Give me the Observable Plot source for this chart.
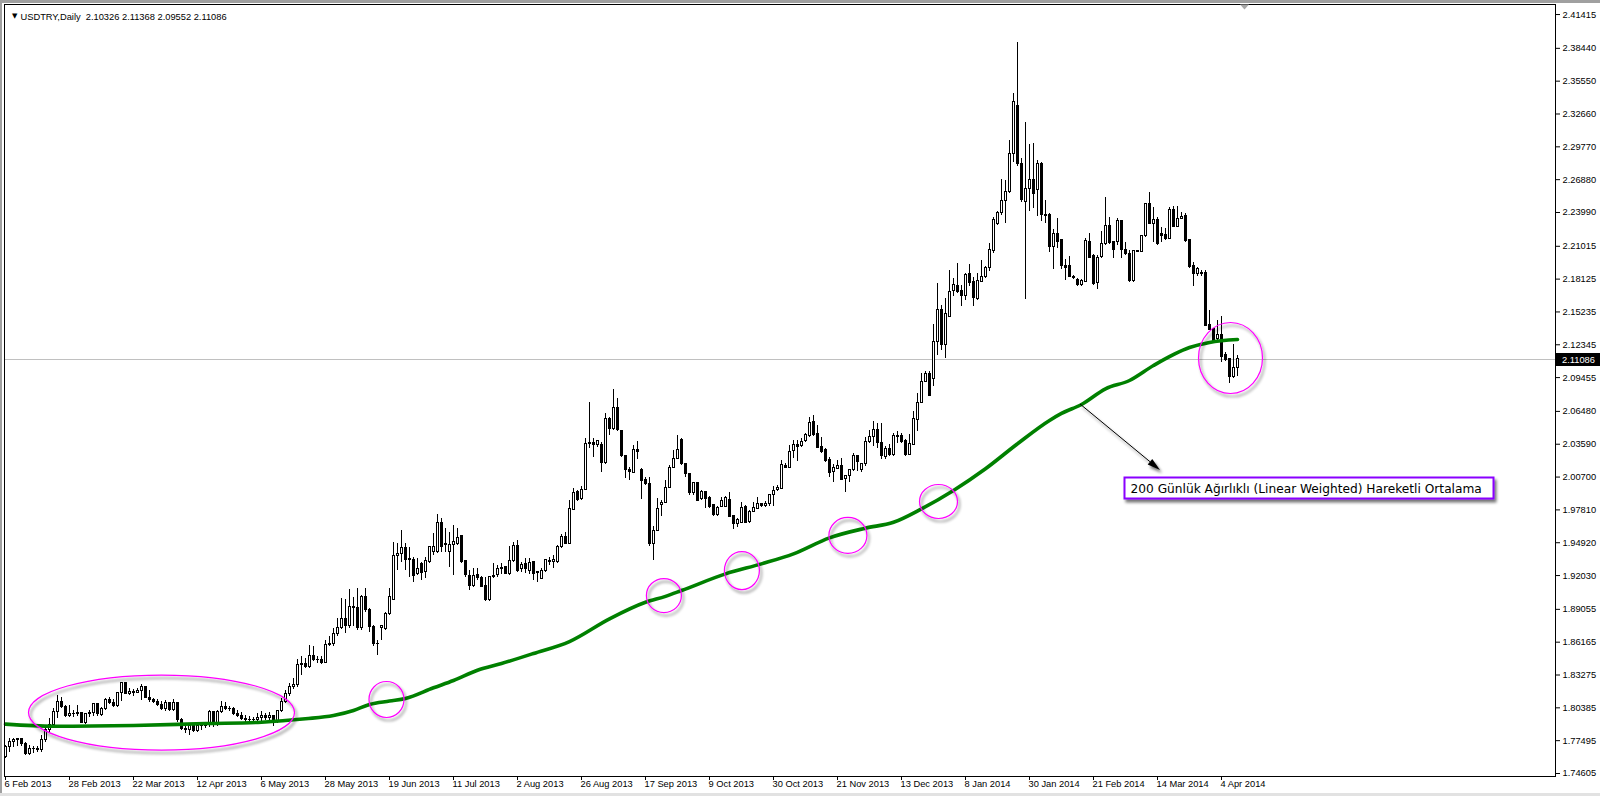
<!DOCTYPE html>
<html><head><meta charset="utf-8">
<script src="https://cdn.jsdelivr.net/npm/d3@7"></script>
<script src="https://cdn.jsdelivr.net/npm/@observablehq/plot@0.6"></script>
<style>
html,body{margin:0;padding:0;background:#fff;overflow:hidden}
#chart svg{display:block}
</style></head><body><div id="chart"></div>
<script>
// ---- data (USDTRY daily candles, bar 0 = 6 Feb 2013) ----
const OPEN = [
1.7606,1.7693,1.7737,1.7752,1.7761,1.7723,1.7635,1.7679,1.7673,1.7667,
1.7752,1.7840,1.7884,1.8001,1.8089,1.8045,1.7963,1.7981,1.7986,1.7992,
1.7904,1.7981,1.7992,1.8068,1.7972,1.8030,1.8109,1.8080,1.8051,1.8168,
1.8256,1.8162,1.8177,1.8168,1.8186,1.8221,1.8127,1.8104,1.8089,1.8060,
1.8030,1.8080,1.8016,1.8080,1.7928,1.7855,1.7840,1.7875,1.7834,1.7875,
1.7880,1.7884,1.8001,1.7899,1.8001,1.8045,1.8030,1.8025,1.7986,1.7963,
1.7942,1.7928,1.7934,1.7928,1.7951,1.7963,1.7951,1.7963,1.7913,1.8010,
1.8089,1.8159,1.8223,1.8238,1.8420,1.8428,1.8399,1.8493,1.8458,1.8463,
1.8434,1.8589,1.8604,1.8692,1.8742,1.8824,1.8757,1.8926,1.8920,1.8745,
1.9014,1.8897,1.8751,1.8598,1.8742,1.8736,1.8862,1.8991,1.9372,1.9389,
1.9448,1.9342,1.9342,1.9214,1.9307,1.9234,1.9322,1.9410,1.9410,1.9665,
1.9468,1.9410,1.9474,1.9483,1.9548,1.9328,1.9196,1.9108,1.9205,1.9184,
1.9108,1.8985,1.9190,1.9205,1.9263,1.9278,1.9214,1.9331,1.9460,1.9264,
1.9307,1.9243,1.9322,1.9234,1.9175,1.9243,1.9322,1.9318,1.9322,1.9454,
1.9542,1.9483,1.9783,1.9939,1.9880,1.9959,2.0358,2.0370,2.0349,2.0349,
2.0193,2.0583,2.0495,2.0680,2.0472,2.0252,2.0135,2.0106,2.0305,2.0135,
2.0041,2.0012,1.9484,1.9596,1.9821,1.9842,1.9977,2.0152,2.0232,2.0393,
2.0182,2.0094,1.9930,2.0018,1.9880,1.9939,1.9889,1.9821,1.9734,1.9807,
1.9807,1.9865,1.9725,1.9654,1.9666,1.9807,1.9675,1.9763,1.9792,1.9830,
1.9813,1.9830,1.9909,1.9959,1.9968,2.0164,2.0152,2.0299,2.0349,2.0340,
2.0387,2.0428,2.0554,2.0451,2.0334,2.0311,2.0217,2.0114,2.0144,2.0164,
2.0056,2.0076,2.0129,2.0252,2.0135,2.0182,2.0378,2.0426,2.0485,2.0368,
2.0251,2.0315,2.0265,2.0432,2.0432,2.0391,2.0265,2.0353,2.0573,2.0719,
2.0910,2.0977,2.0930,2.1261,2.1540,2.1232,2.1476,2.1710,2.1751,2.1710,
2.1663,2.1856,2.1789,2.1634,2.1789,2.1827,2.1906,2.2061,2.2296,2.2395,
2.2501,2.2580,2.2917,2.3333,2.2829,2.2492,2.2609,2.2688,2.2595,2.2829,
2.2375,2.2375,2.2091,2.2208,2.2154,2.1925,2.1925,2.1831,2.1808,2.1758,
2.1787,2.2139,2.2013,2.1779,2.2007,2.2119,2.2277,2.2139,2.2139,2.2324,
2.2066,2.2036,2.1796,2.2060,2.2051,2.2189,2.2476,2.2300,2.2335,2.2206,
2.2198,2.2168,2.2423,2.2271,2.2344,2.2365,2.2154,2.1925,2.1855,2.1866,
2.1866,2.1407,2.1369,2.1281,2.1319,2.1143,2.1105,2.0952,2.10326];
const HIGH = [
1.7708,1.7767,1.7767,1.7773,1.7767,1.7730,1.7708,1.7699,1.7699,1.7796,
1.7855,1.7942,1.8030,1.8148,1.8133,1.8060,1.8060,1.8016,1.8060,1.8001,
1.7992,1.8016,1.8074,1.8074,1.8045,1.8118,1.8133,1.8109,1.8177,1.8265,
1.8265,1.8206,1.8197,1.8206,1.8244,1.8227,1.8191,1.8118,1.8109,1.8098,
1.8104,1.8089,1.8109,1.8089,1.7942,1.7884,1.7884,1.7884,1.7893,1.7899,
1.7913,1.8016,1.8010,1.8016,1.8098,1.8089,1.8051,1.8045,1.8016,1.8001,
1.7972,1.7963,1.7957,1.7986,1.8010,1.7992,1.8001,1.7972,1.8016,1.8118,
1.8191,1.8250,1.8300,1.8464,1.8487,1.8470,1.8589,1.8575,1.8487,1.8487,
1.8633,1.8663,1.8736,1.8824,1.9000,1.8991,1.9079,1.9014,1.9088,1.9029,
1.9088,1.8912,1.8765,1.8634,1.8765,1.8882,1.9088,1.9498,1.9489,1.9600,
1.9483,1.9454,1.9366,1.9351,1.9322,1.9366,1.9460,1.9577,1.9741,1.9703,
1.9615,1.9586,1.9644,1.9615,1.9556,1.9337,1.9249,1.9263,1.9263,1.9196,
1.9190,1.9196,1.9307,1.9293,1.9313,1.9284,1.9460,1.9498,1.9512,1.9322,
1.9351,1.9351,1.9330,1.9243,1.9263,1.9342,1.9366,1.9381,1.9468,1.9565,
1.9586,1.9864,1.9968,1.9953,1.9983,2.0407,2.0730,2.0407,2.0393,2.0378,
2.0633,2.0598,2.0838,2.0759,2.0481,2.0261,2.0152,2.0349,2.0387,2.0144,
2.0070,2.0070,1.9631,1.9880,1.9865,2.0041,2.0173,2.0305,2.0437,2.0407,
2.0193,2.0100,2.0026,2.0026,1.9953,1.9945,1.9900,1.9830,1.9813,1.9889,
1.9900,1.9930,1.9734,1.9704,1.9842,1.9821,1.9777,1.9842,1.9889,1.9836,
1.9851,1.9918,1.9983,1.9997,2.0217,2.0187,2.0349,2.0393,2.0393,2.0407,
2.0457,2.0598,2.0612,2.0525,2.0422,2.0320,2.0240,2.0182,2.0217,2.0232,
2.0085,2.0135,2.0281,2.0261,2.0193,2.0416,2.0481,2.0559,2.0543,2.0543,
2.0339,2.0353,2.0456,2.0471,2.0456,2.0397,2.0441,2.0647,2.0807,2.0983,
2.0998,2.0998,2.1417,2.1774,2.1584,2.1642,2.1891,2.1818,2.1950,2.1760,
2.1862,2.1944,2.1827,2.1862,2.1974,2.1921,2.2126,2.2354,2.2404,2.2688,
2.2683,2.3034,2.3444,2.3898,2.2873,2.3195,2.3000,2.3005,2.2858,2.2843,
2.2507,2.2390,2.2249,2.2346,2.2160,2.1984,2.2013,2.1846,2.1817,2.1808,
2.2168,2.2212,2.2030,2.2022,2.2236,2.2535,2.2359,2.2148,2.2344,2.2330,
2.2139,2.2066,2.2066,2.2066,2.2198,2.2482,2.2579,2.2441,2.2359,2.2265,
2.2256,2.2447,2.2453,2.2453,2.2403,2.2388,2.2165,2.1963,2.1919,2.1884,
2.1884,2.1538,2.1377,2.1451,2.1480,2.1163,2.1115,2.1240,2.11368];
const LOW = [
1.7591,1.7649,1.7693,1.7699,1.7699,1.7620,1.7620,1.7635,1.7649,1.7649,
1.7737,1.7825,1.7875,1.7942,1.8030,1.7951,1.7951,1.7957,1.7963,1.7899,
1.7893,1.7957,1.7963,1.7963,1.7963,1.8016,1.8068,1.8045,1.8045,1.8098,
1.8156,1.8148,1.8139,1.8162,1.8104,1.8118,1.8089,1.8080,1.8051,1.8016,
1.8010,1.8010,1.8010,1.7913,1.7840,1.7811,1.7796,1.7825,1.7825,1.7840,
1.7855,1.7869,1.7863,1.7875,1.7992,1.8016,1.8010,1.7972,1.7951,1.7928,
1.7904,1.7899,1.7893,1.7913,1.7922,1.7928,1.7899,1.7875,1.7904,1.8001,
1.8074,1.8139,1.8200,1.8220,1.8326,1.8385,1.8385,1.8443,1.8428,1.8422,
1.8428,1.8575,1.8581,1.8669,1.8730,1.8692,1.8736,1.8751,1.8721,1.8721,
1.8882,1.8698,1.8575,1.8502,1.8634,1.8721,1.8853,1.8991,1.9249,1.9322,
1.9249,1.9190,1.9146,1.9205,1.9161,1.9175,1.9313,1.9381,1.9401,1.9410,
1.9410,1.9278,1.9205,1.9468,1.9307,1.9190,1.9073,1.9096,1.9161,1.9096,
1.8979,1.8979,1.9175,1.9190,1.9214,1.9214,1.9205,1.9322,1.9234,1.9234,
1.9225,1.9214,1.9161,1.9146,1.9167,1.9234,1.9293,1.9263,1.9313,1.9439,
1.9477,1.9477,1.9777,1.9851,1.9865,1.9953,2.0319,2.0246,2.0334,2.0114,
2.0182,2.0437,2.0481,2.0472,2.0240,2.0056,2.0041,2.0100,2.0223,1.9871,
1.9997,1.9455,1.9332,1.9587,1.9725,1.9836,1.9968,2.0144,2.0223,2.0173,
2.0070,1.9909,1.9909,1.9851,1.9865,1.9792,1.9792,1.9719,1.9725,1.9801,
1.9801,1.9713,1.9608,1.9625,1.9660,1.9660,1.9660,1.9754,1.9783,1.9801,
1.9801,1.9807,1.9807,1.9947,1.9959,2.0144,2.0144,2.0232,2.0211,2.0334,
2.0378,2.0422,2.0428,2.0319,2.0281,2.0202,2.0070,2.0018,2.0135,2.0041,
1.9930,2.0018,2.0123,2.0123,2.0114,2.0164,2.0369,2.0339,2.0325,2.0221,
2.0221,2.0250,2.0250,2.0368,2.0368,2.0250,2.0260,2.0353,2.0471,2.0719,
2.0905,2.0778,2.0866,2.1144,2.1188,2.1115,2.1476,2.1657,2.1686,2.1575,
2.1628,2.1751,2.1575,2.1622,2.1780,2.1818,2.1877,2.2038,2.2287,2.2375,
2.2302,2.2565,2.2835,2.2806,2.2483,2.1634,2.2404,2.2433,2.2360,2.2316,
2.2302,2.2044,2.1897,2.2082,2.1896,2.1802,2.1825,2.1808,2.1749,2.1749,
2.1779,2.1993,2.1758,2.1720,2.1993,2.2110,2.2119,2.1993,2.2110,2.1993,
2.2022,2.1787,2.1787,2.2048,2.2048,2.2183,2.2294,2.2139,2.2110,2.2139,
2.2154,2.2160,2.2265,2.2265,2.2335,2.2139,2.1905,2.1749,2.1837,2.1837,
2.1392,2.1357,2.1260,2.1260,2.1076,2.1084,2.0894,2.0938,2.09552];
const CLOSE = [
1.7693,1.7737,1.7752,1.7761,1.7723,1.7635,1.7679,1.7673,1.7667,1.7752,
1.7840,1.7884,1.8001,1.8089,1.8045,1.7963,1.7981,1.7986,1.7992,1.7904,
1.7981,1.7992,1.8068,1.7981,1.8030,1.8109,1.8080,1.8051,1.8168,1.8256,
1.8162,1.8177,1.8168,1.8186,1.8221,1.8127,1.8104,1.8089,1.8060,1.8030,
1.8080,1.8016,1.8080,1.7928,1.7855,1.7840,1.7875,1.7834,1.7875,1.7880,
1.7884,1.8001,1.7899,1.8001,1.8045,1.8030,1.8025,1.7986,1.7963,1.7942,
1.7928,1.7934,1.7928,1.7951,1.7963,1.7951,1.7963,1.7913,1.8010,1.8089,
1.8159,1.8223,1.8238,1.8420,1.8428,1.8399,1.8493,1.8458,1.8463,1.8434,
1.8589,1.8604,1.8692,1.8742,1.8824,1.8757,1.8926,1.8920,1.8745,1.9014,
1.8897,1.8751,1.8598,1.8604,1.8757,1.8862,1.9014,1.9372,1.9389,1.9448,
1.9342,1.9351,1.9196,1.9263,1.9225,1.9328,1.9454,1.9454,1.9665,1.9454,
1.9483,1.9468,1.9498,1.9536,1.9322,1.9205,1.9108,1.9196,1.9184,1.9102,
1.8991,1.9190,1.9196,1.9263,1.9270,1.9219,1.9331,1.9460,1.9243,1.9293,
1.9263,1.9313,1.9214,1.9225,1.9243,1.9337,1.9331,1.9342,1.9454,1.9542,
1.9483,1.9791,1.9930,1.9865,1.9959,2.0358,2.0370,2.0349,2.0384,2.0193,
2.0583,2.0495,2.0680,2.0486,2.0252,2.0135,2.0114,2.0305,2.0290,2.0035,
2.0006,1.9484,1.9596,1.9792,1.9842,1.9977,2.0152,2.0232,2.0305,2.0182,
2.0094,1.9930,2.0018,1.9859,1.9939,1.9880,1.9807,1.9734,1.9801,1.9859,
1.9889,1.9719,1.9654,1.9690,1.9801,1.9666,1.9763,1.9801,1.9830,1.9813,
1.9836,1.9909,1.9947,1.9977,2.0173,2.0152,2.0290,2.0349,2.0334,2.0378,
2.0443,2.0545,2.0437,2.0328,2.0290,2.0211,2.0106,2.0152,2.0164,2.0047,
2.0076,2.0129,2.0252,2.0202,2.0182,2.0378,2.0422,2.0485,2.0368,2.0257,
2.0315,2.0265,2.0432,2.0426,2.0383,2.0265,2.0362,2.0579,2.0725,2.0910,
2.0977,2.0784,2.1261,2.1540,2.1232,2.1505,2.1701,2.1760,2.1701,2.1663,
2.1847,2.1780,2.1642,2.1798,2.1833,2.1906,2.2067,2.2331,2.2395,2.2501,
2.2580,2.2917,2.3371,2.2829,2.2507,2.2609,2.2688,2.2559,2.2829,2.2375,
2.2366,2.2091,2.2208,2.2141,2.1925,2.1913,2.1831,2.1825,2.1758,2.1796,
2.2148,2.2001,2.1773,2.2001,2.2119,2.2277,2.2130,2.2072,2.2324,2.2066,
2.2031,2.1796,2.2060,2.2051,2.2189,2.2476,2.2300,2.2335,2.2119,2.2195,
2.2168,2.2423,2.2271,2.2344,2.2359,2.2148,2.1919,2.1855,2.1905,2.1855,
2.1398,2.1363,2.1269,2.1319,2.1128,2.1099,2.0952,2.1033,2.11086];

// 200-day linear weighted moving average, read at sample bars
const MA_BAR = [0,12,32,50,64,75,82,87,91,96,100,107,112,118,124,132,141,151,160,165,169,180,189,197,206,215,222,229,237,245,253,261,264,269,275,281,287,296,301,308];
const MA_VAL = [1.7895,1.7876,1.7883,1.7900,1.7912,1.7942,1.7971,1.8015,1.8068,1.8098,1.8121,1.8215,1.8279,1.8370,1.8429,1.8517,1.8622,1.8822,1.8968,1.9020,1.9071,1.9218,1.9306,1.9394,1.9535,1.9620,1.9672,1.9790,1.9952,2.0143,2.0363,2.0568,2.0630,2.0709,2.0847,2.0920,2.1052,2.1210,2.1255,2.1281];

const DATE_LABELS = ["6 Feb 2013","28 Feb 2013","22 Mar 2013","12 Apr 2013","6 May 2013","28 May 2013","19 Jun 2013","11 Jul 2013","2 Aug 2013","26 Aug 2013","17 Sep 2013","9 Oct 2013","30 Oct 2013","21 Nov 2013","13 Dec 2013","8 Jan 2014","30 Jan 2014","21 Feb 2014","14 Mar 2014","4 Apr 2014"];
const DATE_BARS = [0,16,32,48,64,80,96,112,128,144,160,176,192,208,224,240,256,272,288,304];
const Y_TICKS = [2.41415,2.38440,2.35550,2.32660,2.29770,2.26880,2.23990,2.21015,2.18125,2.15235,2.12345,2.09455,2.06480,2.03590,2.00700,1.97810,1.94920,1.92030,1.89055,1.86165,1.83275,1.80385,1.77495,1.74605];

const HEADER = "USDTRY,Daily  2.10326 2.11368 2.09552 2.11086";
const NOTE = "200 Günlük Ağırlıklı (Linear Weighted) Hareketli Ortalama";
// highlighted spots: [bar, price, rx, ry]
const SPOTS = [[39,1.7997,133,37.5],[95.25,1.8112,17.5,18],[164.6,1.9027,17.5,17],[184.1,1.9247,17.5,19],[210.6,1.9556,19,18],[233.25,1.9855,19,17],[306.25,2.1118,32,35.5]];
const ARROW = [[268.75,2.0709],[288.75,2.0128]];
const NOTE_AT = [279.75,2.0066];
const LAST_PRICE = 2.11086;
const SHIFT_BAR = 309.75;

// ---- build ----
const bars = CLOSE.map((c,i)=>({i, open:OPEN[i], high:HIGH[i], low:LOW[i], close:c}));
const upBars = bars.filter(d=>d.close>=d.open);
const downBars = bars.filter(d=>d.close<d.open);
const ma = MA_BAR.map((b,k)=>({i:b, v:MA_VAL[k]}));
const FONT = "'Liberation Sans', Arial, sans-serif";
const CRISP = "crispEdges";

const chart = Plot.plot({
  width: 1600, height: 796,
  marginLeft: 4, marginRight: 45, marginTop: 4, marginBottom: 20,
  style: {fontFamily: FONT, fontSize: "9.3px", color: "#000", background: "transparent", overflow: "visible"},
  x: {domain: [-0.25, 387.5], axis: "bottom", ticks: DATE_BARS, tickSize: 4, tickFormat: () => "", label: null},
  y: {domain: [1.74341, 2.42299], axis: "right", ticks: Y_TICKS, tickFormat: d => d.toFixed(5), tickSize: 4, tickPadding: 3, label: null},
  marks: [
    Plot.ruleY([LAST_PRICE], {stroke: "#c0c0c0", shapeRendering: CRISP}),
    Plot.ruleX(bars, {x: "i", y1: "low", y2: "high", stroke: "#000", strokeWidth: 1, shapeRendering: CRISP}),
    Plot.rect(upBars, {x1: d => d.i - 0.25, x2: d => d.i + 0.25, y1: "open", y2: "close", fill: "#fff", stroke: "#000", shapeRendering: CRISP}),
    Plot.rect(downBars, {x1: d => d.i - 0.25, x2: d => d.i + 0.25, y1: "open", y2: "close", fill: "#000", stroke: "#000", shapeRendering: CRISP}),
    Plot.line(ma, {x: "i", y: "v", stroke: "#008000", strokeWidth: 3.6, curve: "monotone-x"}),
    Plot.text(DATE_LABELS, {x: (d, k) => DATE_BARS[k], text: d => d, frameAnchor: "bottom", textAnchor: "start", dy: 10, dx: -1}),
    Plot.text(["▼"], {text: d => d, frameAnchor: "top-left", dx: 7.5, dy: 9, fontFamily: "DejaVu Sans", fontSize: 7}),
    Plot.text([HEADER], {text: d => d, frameAnchor: "top-left", dx: 16, dy: 9, textAnchor: "start"}),
    Plot.frame({stroke: "#000", shapeRendering: CRISP})
  ]
});
document.getElementById("chart").appendChild(chart);

// ---- annotations placed through the plot's scales ----
const sx = chart.scale("x"), sy = chart.scale("y");
const X = sx.apply ? v => sx.apply(v) : d3.scaleLinear(sx.domain, sx.range);
const Y = sy.apply ? v => sy.apply(v) : d3.scaleLinear(sy.domain, sy.range);
const svg = d3.select(chart);
const defs = svg.append("defs");
const f = defs.append("filter").attr("id", "sh").attr("x", "-30%").attr("y", "-30%").attr("width", "170%").attr("height", "170%");
f.append("feGaussianBlur").attr("in", "SourceAlpha").attr("stdDeviation", 1.8).attr("result", "b");
f.append("feOffset").attr("in", "b").attr("dx", 2).attr("dy", 3).attr("result", "o");
f.append("feComponentTransfer").attr("in", "o").attr("result", "t").append("feFuncA").attr("type", "linear").attr("slope", 0.55);
const m = f.append("feMerge"); m.append("feMergeNode").attr("in", "t"); m.append("feMergeNode").attr("in", "SourceGraphic");

// window border strips
svg.append("rect").attr("x", 0).attr("y", 0).attr("width", 1600).attr("height", 3).attr("fill", "#a0a0a0");
svg.append("rect").attr("x", 0).attr("y", 0).attr("width", 2).attr("height", 796).attr("fill", "#a0a0a0");
svg.append("rect").attr("x", 0).attr("y", 793).attr("width", 1600).attr("height", 3).attr("fill", "#e2e2e2");

// chart-shift marker
const tx = X(SHIFT_BAR) + 0.5;
svg.append("path").attr("d", `M${tx-4.5},4.5L${tx+4.5},4.5L${tx},9.5Z`).attr("fill", "#a8a8a8");

// last price tag
const ly = Math.round(Y(LAST_PRICE)) + 0.5;
svg.append("rect").attr("x", 1556).attr("y", ly - 6.5).attr("width", 44).attr("height", 13).attr("fill", "#000");
svg.append("text").attr("x", 1562).attr("y", ly).attr("dy", "0.34em").attr("fill", "#fff").attr("text-anchor", "start")
  .attr("font-family", FONT).attr("font-size", "9.3px").text(LAST_PRICE.toFixed(5));

// magenta ellipses
for (const [b, p, rx, ry] of SPOTS) {
  svg.append("ellipse").attr("cx", X(b) + 0.5).attr("cy", Y(p) + 0.5).attr("rx", rx).attr("ry", ry)
    .attr("fill", "none").attr("stroke", "#ff00ff").attr("stroke-width", 1.2).attr("filter", "url(#sh)");
}

// arrow
const ax1 = X(ARROW[0][0]), ay1 = Y(ARROW[0][1]), ax2 = X(ARROW[1][0]), ay2 = Y(ARROW[1][1]);
const ang = Math.atan2(ay2 - ay1, ax2 - ax1), L = 13, Wd = 3.6;
const bx = ax2 - L * Math.cos(ang), by = ay2 - L * Math.sin(ang);
const ga = svg.append("g").attr("filter", "url(#sh)");
ga.append("line").attr("x1", ax1).attr("y1", ay1).attr("x2", bx).attr("y2", by).attr("stroke", "#000").attr("stroke-width", 1);
ga.append("path").attr("d", `M${ax2},${ay2}L${bx + Wd*Math.sin(ang)},${by - Wd*Math.cos(ang)}L${bx - Wd*Math.sin(ang)},${by + Wd*Math.cos(ang)}Z`).attr("fill", "#000");

// note box
const nx = Math.round(X(NOTE_AT[0])) + 0.5, ny = Math.round(Y(NOTE_AT[1])) + 0.5;
svg.append("rect").attr("x", nx).attr("y", ny).attr("width", 369).attr("height", 21)
  .attr("fill", "#fff").attr("stroke", "#8a00ff").attr("stroke-width", 2).attr("filter", "url(#sh)");
svg.append("text").attr("x", nx + 6).attr("y", ny + 15.5).attr("text-anchor", "start")
  .attr("font-family", "DejaVu Sans").attr("font-size", "12.2px").attr("fill", "#000").text(NOTE);
</script></body></html>
